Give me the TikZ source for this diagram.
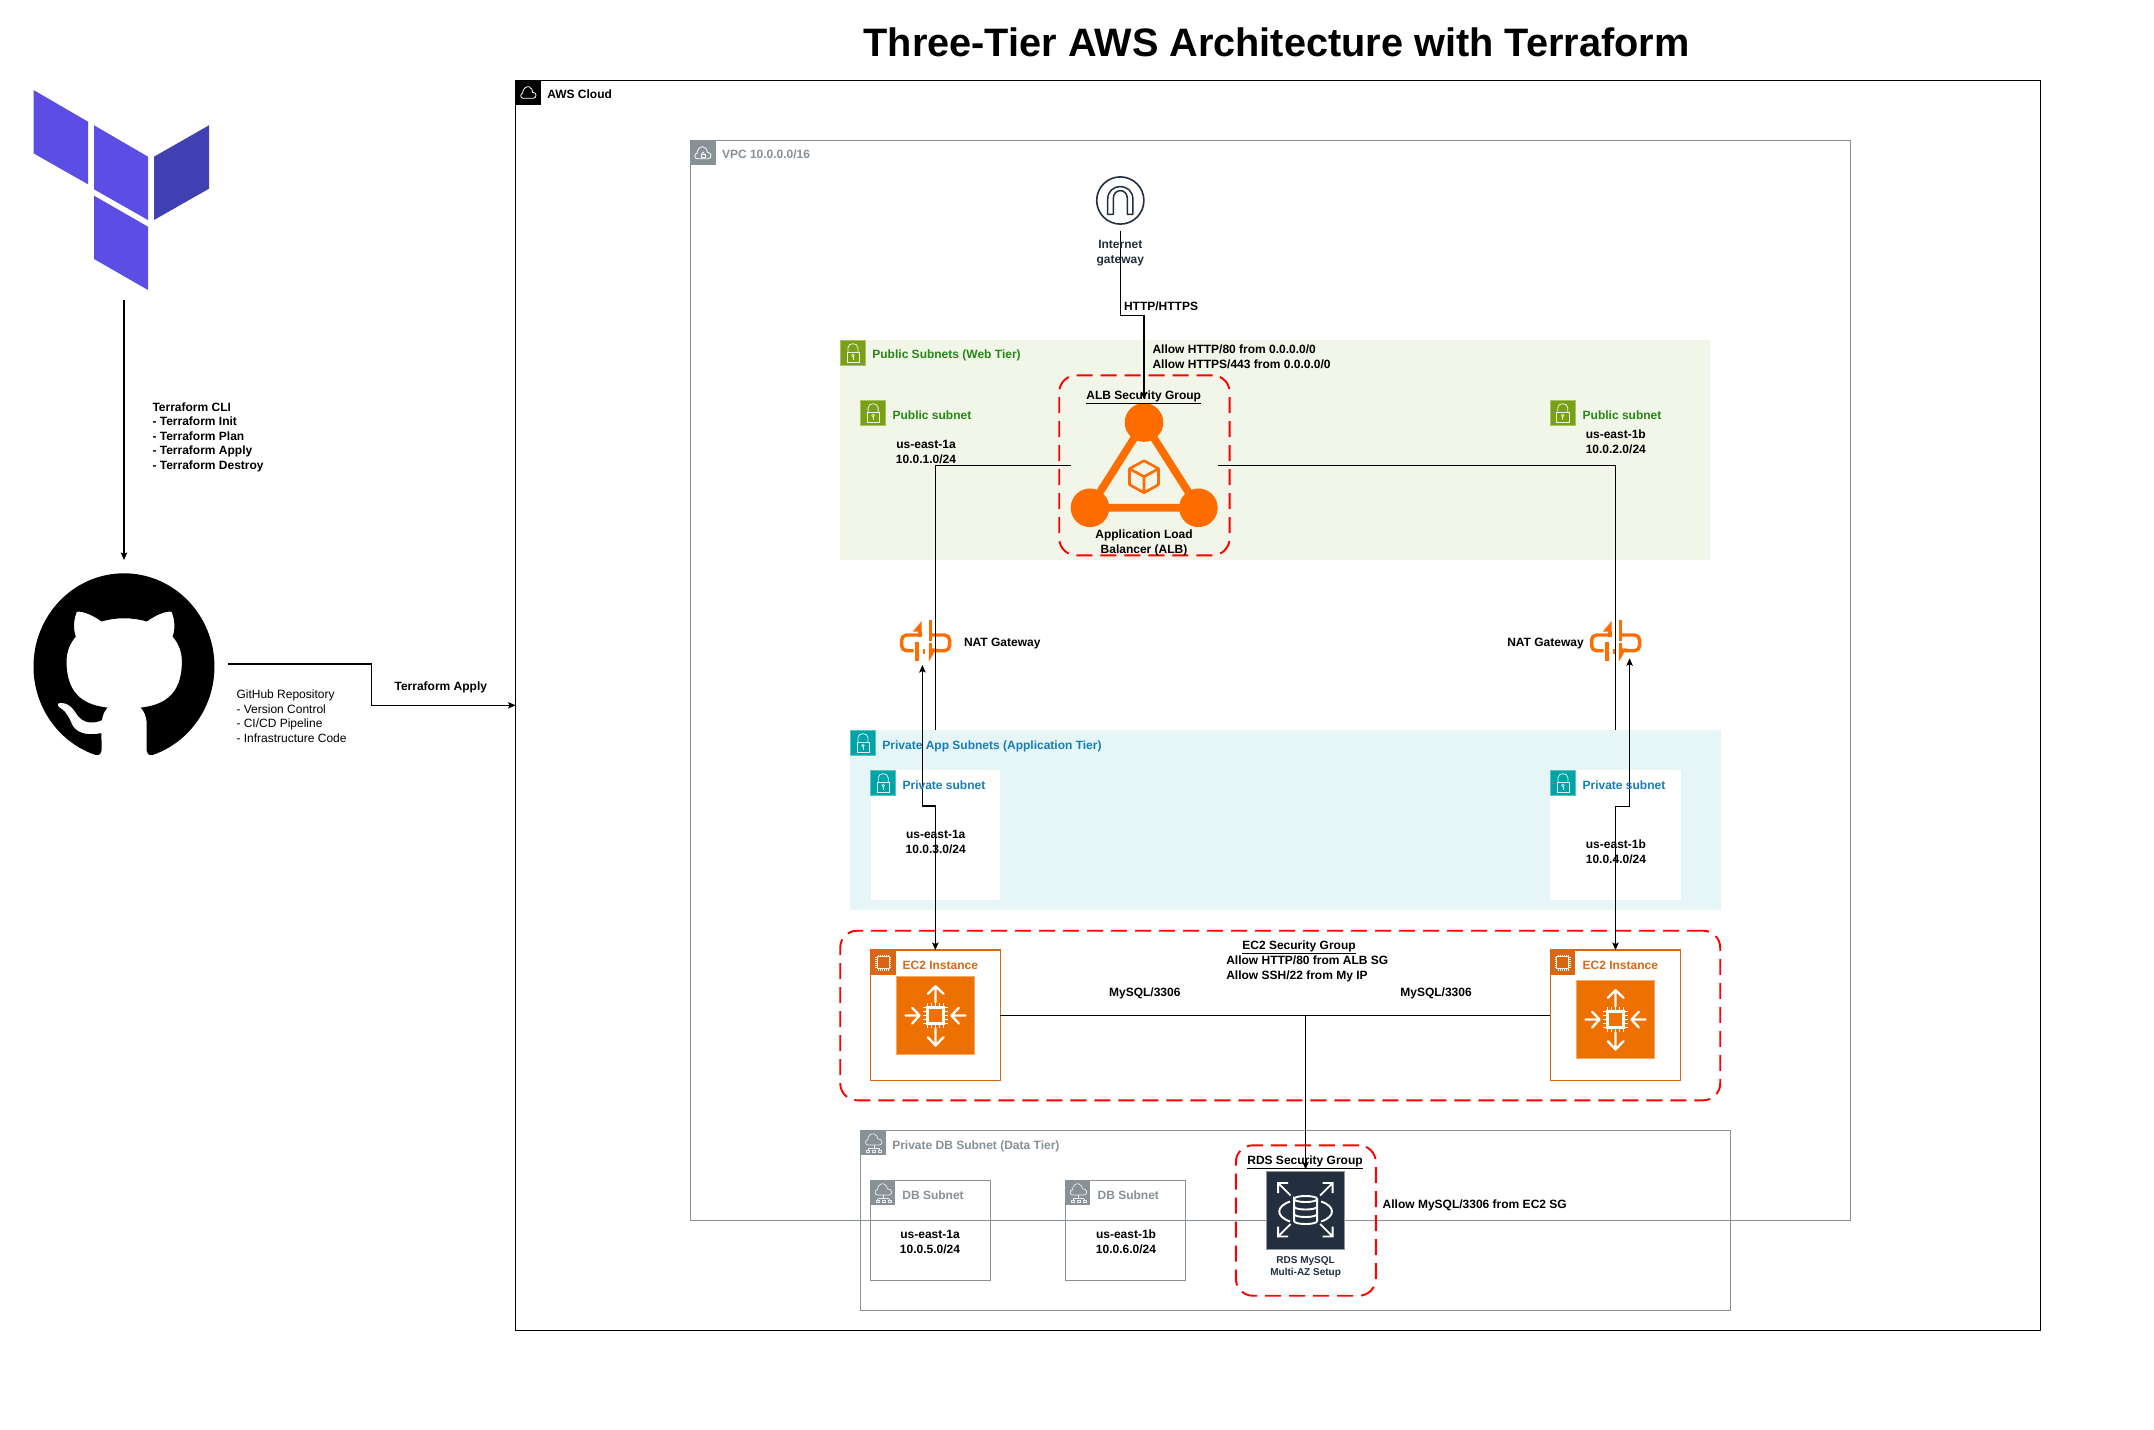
\documentclass[tikz,border=0pt]{standalone}
\usepackage{fontspec}
\setmainfont{Liberation Sans}
\usetikzlibrary{arrows.meta,svg.path,shapes.misc}
\definecolor{tfmain}{HTML}{5C4EE5}
\definecolor{tfdark}{HTML}{4040B2}
\definecolor{awsgrey}{HTML}{879196}
\definecolor{pubfill}{HTML}{F2F6E8}
\definecolor{pubtext}{HTML}{248814}
\definecolor{pubicon}{HTML}{7AA116}
\definecolor{privfill}{HTML}{E6F6F7}
\definecolor{privtext}{HTML}{147EBA}
\definecolor{privicon}{HTML}{00A4A6}
\definecolor{ectwo}{HTML}{D86613}
\definecolor{ecfill}{HTML}{ED7100}
\definecolor{navy}{HTML}{232F3E}
\definecolor{albor}{HTML}{FF6D00}
\tikzset{
  box/.style={rectangle,anchor=north west,inner sep=0,outer sep=0},
  sgbox/.style={box,draw=red,line width=1.9,dash pattern=on 16 off 8,rounded corners=17},
  lbl/.style={inner sep=0,outer sep=0,text height=8.6,text depth=0,font=\fontsize{12}{14.5}\selectfont\bfseries},
  lleft/.style={lbl,anchor=west,align=left},
  lctr/.style={lbl,anchor=center,align=center},
  wire/.style={draw=black,line width=1.05},
  tip/.style={-{Stealth[length=7.5,width=6.5,inset=1.5]}},
  tips/.style={{Stealth[length=7.5,width=6.5,inset=1.5]}-{Stealth[length=7.5,width=6.5,inset=1.5]}},
  pics/lockicon/.style={code={
    \fill[#1] (0,0) rectangle (25,25);
    \draw[#1!65!white,line width=.7] (0,0) rectangle (25,25);
    \draw[white!85!#1,line width=.8] (7.7,12.3) -- (7.7,7.5) .. controls (7.7,2) and (17.7,2) .. (17.7,7.5) -- (17.7,12.3);
    \draw[white!85!#1,line width=.8] (6.7,12.3) rectangle (19,21.7);
    \draw[white!85!#1,line width=.7] (12.7,15.3) circle [radius=1.3];
    \draw[white!85!#1,line width=.7] (12.7,16.6) -- (12.7,19.3);
  }},
  pics/cloudshape/.style={code={
    \draw[white,line width=.8] (7.5,18) .. controls (4.5,18) and (4.5,13) .. (7,13)
      .. controls (7,8.5) and (11,5.5) .. (13.5,6.5) .. controls (16.5,7.5) and (17,10.5) .. (17,12)
      .. controls (21.5,12) and (21.5,18) .. (17.5,18) -- cycle;
  }},
  pics/cloudlock/.style={code={
    \fill[awsgrey] (0,0) rectangle (25,25);
    \draw[white,line width=.8] (7,18.5) .. controls (3.5,18.5) and (3.5,13) .. (6.5,13)
      .. controls (7,8.5) and (10,6) .. (12.5,6.5) .. controls (15.5,7) and (17,10) .. (17,12)
      .. controls (21.5,12) and (21.5,18.5) .. (17.5,18.5) -- cycle;
    \draw[white,line width=.6] (10.5,13.5) rectangle (14.5,17);
    \draw[white,line width=.6] (11.2,13.5) .. controls (11.2,11) and (13.8,11) .. (13.8,13.5);
  }},
  pics/cloudnet/.style={code={
    \fill[awsgrey] (0,0) rectangle (25,25);
    \draw[white!85!awsgrey,line width=.7] (7.5,14.7) .. controls (4,14.7) and (4,9.5) .. (7,9.5)
      .. controls (7.5,5) and (10.5,3) .. (13,3.5) .. controls (16,4) and (17,7) .. (17,8.5)
      .. controls (22.5,8.5) and (22.5,14.7) .. (18.5,14.7) -- cycle;
    \draw[white!85!awsgrey,line width=.7] (13.3,14.7) -- (13.3,18.5) (7.5,18.5) -- (19,18.5) (7.5,18.5) -- (7.5,19.7) (19,18.5) -- (19,19.7);
    \draw[white!85!awsgrey,line width=.6] (6,19.7) rectangle (9,21.7) (12,19.7) rectangle (15,21.7) (17.5,19.7) rectangle (20.5,21.7);
  }},
  pics/ecsmall/.style={code={
    \fill[ectwo] (0,0) rectangle (25,25);
    \draw[white!90!ectwo,line width=.8] (6.5,6.5) rectangle (18.5,18.5);
    \foreach \q in {7.5,9.5,11.5,13.5,15.5,17.5}{
      \draw[white!90!ectwo,line width=.4] (\q,4.5) -- (\q,6.5) (\q,18.5) -- (\q,20.5) (4.5,\q) -- (6.5,\q) (18.5,\q) -- (20.5,\q);
    }
  }},
  pics/ecbig/.style={code={
    \fill[ecfill] (-39,-39) rectangle (39,39);
    \draw[ecfill!60!white,line width=.8] (-39,-39) rectangle (39,39);
    \begin{scope}[draw=white,line width=2.3,line cap=round,line join=round]
      \draw (0,-13) -- (0,-29.3) (-7.7,-21.7) -- (0,-29.3) -- (8,-21.7);
      \draw (0,13) -- (0,30) (-7.7,21.7) -- (0,30) -- (8,21.7);
      \draw (-30,0) -- (-16,0) (-23.3,-7.7) -- (-16,0) -- (-23.3,8);
      \draw (30,0) -- (16,0) (23.3,-7.7) -- (16,0) -- (23.3,8);
    \end{scope}
    \draw[white,line width=3] (-8.3,-8.3) rectangle (8.3,8.3);
    \foreach \q in {-8,-4,0,4,8}{
      \draw[white,line width=1.7] (\q,-12.5) -- (\q,-9) (\q,9) -- (\q,12.5) (-12.5,\q) -- (-9,\q) (9,\q) -- (12.5,\q);
    }
  }},
  pics/natgw/.style={code={
    \begin{scope}[draw=albor,line width=3.4,line join=round]
      \draw[rounded corners=5] (-5.5,-6) -- (-24,-6) -- (-24,9.7) -- (-12,9.7);
      \draw[rounded corners=5] (5,-6) -- (24,-6) -- (24,9.7) -- (9,9.7);
      \draw (5,-21) -- (5,-0.5);
      \draw (-8.5,0.7) -- (-8.5,19.7);
      \draw[line width=2.2] (-1.5,8.3) -- (-1.5,13);
      \draw (-5.5,-10) -- (-5.5,-4);
      \draw (5,2.3) -- (5,8);
    \end{scope}
    \fill[albor] (-4,-20) -- (-12.7,-9.5) -- (-4,-9.5) -- cycle;
    \fill[albor] (3.2,20.7) -- (3.2,7.3) -- (11,7.3) -- cycle;
  }},
  pics/rdsicon/.style={code={
    \fill[navy] (-39,-39) rectangle (39,39);
    \draw[navy!50!white,line width=.8] (-39,-39) rectangle (39,39);
    \begin{scope}[draw=white,line width=1.9,line join=miter]
      \draw (-15,-15) -- (-27.5,-27.5) (-17.5,-27.5) -- (-27.5,-27.5) -- (-27.5,-17.5);
      \draw (14.5,-15) -- (27,-27.5) (17,-27.5) -- (27,-27.5) -- (27,-17.5);
      \draw (-15,13.5) -- (-27.5,26) (-27.5,16) -- (-27.5,26) -- (-17.5,26);
      \draw (14.5,13.5) -- (27,26) (27,16) -- (27,26) -- (17,26);
      \draw (-11.5,-11.5) .. controls (-11.5,-15.5) and (11.5,-15.5) .. (11.5,-11.5) .. controls (11.5,-7.5) and (-11.5,-7.5) .. (-11.5,-11.5) -- (-11.5,10.5) .. controls (-11.5,14.5) and (11.5,14.5) .. (11.5,10.5) -- (11.5,-11.5);
      \draw (-11.5,-4) .. controls (-11.5,0) and (11.5,0) .. (11.5,-4);
      \draw (-11.5,3.5) .. controls (-11.5,7.5) and (11.5,7.5) .. (11.5,3.5);
      \draw (-15.5,-9) .. controls (-30,-4) and (-30,6) .. (-15.5,11);
      \draw (15.5,-9) .. controls (30,-4) and (30,6) .. (15.5,11);
    \end{scope}
  }},
}
\begin{document}
\begin{tikzpicture}[x=1pt,y=-1pt]
\useasboundingbox (0,0) rectangle (2154,1429);
\fill[white] (0,0) rectangle (2154,1429);

% title
\node[inner sep=0,text height=28.4,text depth=0,font=\fontsize{39.7}{48}\selectfont\bfseries] (title) at (1276.5,42) {Three-Tier AWS Architecture with Terraform};

% Terraform logo
\fill[tfmain] (33.5,90) -- (88,121.7) -- (88,184.3) -- (33.5,153.3) -- cycle;
\fill[tfmain] (94,125.3) -- (148,156.7) -- (148,220) -- (94,189.3) -- cycle;
\fill[tfdark] (154,156.7) -- (209,125.3) -- (209,188.7) -- (154,220) -- cycle;
\fill[tfmain] (94,195.7) -- (148,226.7) -- (148,290) -- (94,259) -- cycle;
\coordinate (tfout) at (124,300);
\coordinate (ghin) at (124,560);

% GitHub mark
\begin{scope}[shift={(33.5,573.3)},xscale=11.31,yscale=-11.65]
\fill[black] svg "M 8 0 C 3.58 0 0 3.58 0 8 c 0 3.54 2.29 6.53 5.47 7.59 c 0.4 0.07 0.55 -0.17 0.55 -0.38 c 0 -0.19 -0.01 -0.82 -0.01 -1.49 c -2.01 0.37 -2.53 -0.49 -2.69 -0.94 c -0.09 -0.23 -0.48 -0.94 -0.82 -1.13 c -0.28 -0.15 -0.68 -0.52 -0.01 -0.53 c 0.63 -0.01 1.08 0.58 1.23 0.82 c 0.72 1.21 1.87 0.87 2.33 0.66 c 0.07 -0.52 0.28 -0.87 0.51 -1.07 c -1.78 -0.2 -3.64 -0.89 -3.64 -3.95 c 0 -0.87 0.31 -1.59 0.82 -2.15 c -0.08 -0.2 -0.36 -1.02 0.08 -2.12 c 0 0 0.67 -0.21 2.2 0.82 c 0.64 -0.18 1.32 -0.27 2 -0.27 c 0.68 0 1.36 0.09 2 0.27 c 1.53 -1.04 2.2 -0.82 2.2 -0.82 c 0.44 1.1 0.16 1.92 0.08 2.12 c 0.51 0.56 0.82 1.27 0.82 2.15 c 0 3.07 -1.87 3.75 -3.65 3.95 c 0.29 0.25 0.54 0.73 0.54 1.48 c 0 1.07 -0.01 1.93 -0.01 2.2 c 0 0.21 0.15 0.46 0.55 0.38 C 13.71 14.53 16 11.54 16 8 c 0 -4.42 -3.58 -8 -8 -8 z";
\end{scope}
\coordinate (ghout) at (228.2,664);
\coordinate (ghbend) at (371.9,705.3);

% containers
\node[box,draw=black,line width=1.3,minimum width=1524.9,minimum height=1250.2] (aws) at (515.6,80.3) {};
\node[box,draw=awsgrey,line width=1.1,minimum width=1159.9,minimum height=1080] (vpc) at (690.5,140.3) {};
\node[box,fill=pubfill,minimum width=870.2,minimum height=219.7] (pubgroup) at (840.2,340.3) {};
\node[box,fill=privfill,minimum width=870.2,minimum height=179.7] (privgroup) at (850.3,730.3) {};
\node[box,fill=white,minimum width=129.9,minimum height=130] (privA) at (870.5,770.3) {};
\node[box,fill=white,minimum width=130.5,minimum height=130] (privB) at (1550.2,770.3) {};
\node[box,draw=ectwo,line width=1.1,fill=white,minimum width=129.9,minimum height=130.3] (ecA) at (870.5,950) {};
\node[box,draw=ectwo,line width=1.1,fill=white,minimum width=130.5,minimum height=130.3] (ecB) at (1550.2,950) {};
\node[box,draw=awsgrey,line width=1.1,minimum width=869.8,minimum height=180] (dbgroup) at (860.7,1130.3) {};
\node[box,draw=awsgrey,line width=1.1,minimum width=120.3,minimum height=100] (dbA) at (870.3,1180.3) {};
\node[box,draw=awsgrey,line width=1.1,minimum width=120.3,minimum height=100] (dbB) at (1065.4,1180.3) {};

% security groups
\node[sgbox,minimum width=170.4,minimum height=180] (albsg) at (1059.2,375.3) {};
\node[sgbox,minimum width=880,minimum height=169.6] (ecsg) at (840.2,930.7) {};
\node[sgbox,minimum width=140,minimum height=150.4] (rdssg) at (1235.8,1145.3) {};

% group icons
\fill[black] (515.6,80.3) rectangle (540.6,105.3);
\pic at (515.6,80.3) {cloudshape};
\pic at (690.5,140.3) {cloudlock};
\pic at (840.2,340.3) {lockicon=pubicon};
\pic at (860.4,400.3) {lockicon=pubicon};
\pic at (1550,400.3) {lockicon=pubicon};
\pic at (850.3,730.3) {lockicon=privicon};
\pic at (870.5,770.3) {lockicon=privicon};
\pic at (1550.2,770.3) {lockicon=privicon};
\pic at (870.5,950) {ecsmall};
\pic at (1550.2,950) {ecsmall};
\pic at (860.7,1130.3) {cloudnet};
\pic at (870.3,1180.3) {cloudnet};
\pic at (1065.4,1180.3) {cloudnet};

% internet gateway
\node[circle,draw=navy,line width=1.6,fill=white,minimum size=47.2,inner sep=0] (igw) at (1120.3,200.5) {};
\draw[navy,line width=1.5,line join=round,shift={(1120.3,200.5)}] (-12.6,13.8) -- (-12.6,-1.2) .. controls (-12.6,-18.2) and (12.6,-18.2) .. (12.6,-1.2) -- (12.6,13.8) -- (7,13.8) -- (7,-2) .. controls (7,-12.5) and (-7,-12.5) .. (-7,-2) -- (-7,13.8) -- cycle;
\coordinate (igwout) at (1120.3,230.7);

% ALB
\draw[albor,line width=7.7] (1144,422.5) -- (1090,507.8) -- (1198.4,507.8) -- cycle;
\node[circle,fill=albor,minimum size=38.6,inner sep=0] (albtop) at (1144,422.5) {};
\node[circle,fill=albor,minimum size=38.6,inner sep=0] (albleft) at (1090,507.8) {};
\node[circle,fill=albor,minimum size=38.6,inner sep=0] (albright) at (1198.4,507.8) {};
\draw[albor,line width=2.6,line join=round,shift={(1144,476.7)}] (0,-16) -- (14.5,-8) -- (14.5,8) -- (0,16) -- (-14.5,8) -- (-14.5,-8) -- cycle (-14.5,-8) -- (0,0) -- (14.5,-8) (0,0) -- (0,16);
\coordinate (albL) at (1070.7,465.3);
\coordinate (albR) at (1218,465.3);
\coordinate (albtip) at (1144,399.3);

% NAT gateways
\pic at (925.6,641) {natgw};
\pic at (1615.6,641) {natgw};
\coordinate (natA) at (922.4,665);
\coordinate (natB) at (1629.6,658.3);

% EC2 and RDS pictures
\pic at (935.5,1015.5) {ecbig};
\pic at (1615.5,1019.5) {ecbig};
\pic at (1305.6,1210.5) {rdsicon};
\coordinate (rdstip) at (1305.6,1169.3);
\coordinate (joint) at (1305.6,1015.3);

% connectors
\draw[wire,tip] (tfout) -- (ghin);
\draw[wire,tip] (ghout) -| (ghbend) -- (515.6,705.3);
\draw[wire,tip] (igwout) |- (1144,315.3) -- (albtip);
\draw[wire] (albL) -| (935.3,730.3);
\draw[wire] (albR) -| (1615.3,730.3);
\draw[wire,tips] (935.3,950) -- (935.3,806) -- (922.4,806) -- (natA);
\draw[wire,tips] (1615.5,950) -- (1615.5,806.3) -- (1629.6,806.3) -- (natB);
\draw[wire] (1000.4,1015.3) -- (joint) -- (1550.2,1015.3);
\draw[wire,tip] (joint) -- (rdstip);

% labels
\node[lleft] (awsl) at (547.3,94.5) {AWS Cloud};
\node[lleft,text=awsgrey] (vpcl) at (722,154.3) {VPC 10.0.0.0/16};
\node[lctr,text=navy] (igwl) at (1120.3,259) {Internet\\gateway};
\node[lleft] (httpl) at (1124,305.7) {HTTP/HTTPS};
\node[lleft,text=pubtext] (publ) at (872.4,354.3) {Public Subnets (Web Tier)};
\node[lleft] (allowl) at (1152.5,363.7) {Allow HTTP/80 from 0.0.0.0/0\\Allow HTTPS/443 from 0.0.0.0/0};
\node[lctr] (albsgl) at (1143.7,395) {\underline{ALB Security Group}};
\node[lleft,text=pubtext] (pubAl) at (892.6,414.7) {Public subnet};
\node[lleft,text=pubtext] (pubBl) at (1582.7,414.7) {Public subnet};
\node[lctr] (pubAz) at (926,458.7) {us-east-1a\\10.0.1.0/24};
\node[lctr] (pubBz) at (1615.8,448.7) {us-east-1b\\10.0.2.0/24};
\node[lctr] (albl) at (1144,548.7) {Application Load\\Balancer (ALB)};
\node[lleft] (natAl) at (964,641.7) {NAT Gateway};
\node[lbl,anchor=east] (natBl) at (1583.7,641.7) {NAT Gateway};
\node[lleft,text=privtext] (privl) at (882.4,744.7) {Private App Subnets (Application Tier)};
\node[lleft,text=privtext] (privAl) at (902.6,784.7) {Private subnet};
\node[lleft,text=privtext] (privBl) at (1582.6,784.7) {Private subnet};
\node[lctr] (privAz) at (935.7,848.7) {us-east-1a\\10.0.3.0/24};
\node[lctr] (privBz) at (1615.9,858.7) {us-east-1b\\10.0.4.0/24};
\node[lctr] (ecsgl) at (1299,944.7) {\underline{EC2 Security Group}};
\node[lleft] (ecallow) at (1226.3,974.7) {Allow HTTP/80 from ALB SG\\Allow SSH/22 from My IP};
\node[lleft,text=ectwo] (ecAl) at (902.6,964.7) {EC2 Instance};
\node[lleft,text=ectwo] (ecBl) at (1582.6,964.7) {EC2 Instance};
\node[lctr] (mysqlA) at (1144.8,991.7) {MySQL/3306};
\node[lctr] (mysqlB) at (1436,991.7) {MySQL/3306};
\node[lleft,text=awsgrey] (dbl) at (892.3,1144.7) {Private DB Subnet (Data Tier)};
\node[lleft,text=awsgrey] (dbAl) at (902.4,1194.7) {DB Subnet};
\node[lleft,text=awsgrey] (dbBl) at (1097.6,1194.7) {DB Subnet};
\node[lctr] (dbAz) at (930,1248.7) {us-east-1a\\10.0.5.0/24};
\node[lctr] (dbBz) at (1126,1248.7) {us-east-1b\\10.0.6.0/24};
\node[lctr] (rdssgl) at (1305,1159.7) {\underline{RDS Security Group}};
\node[lleft] (rdsallow) at (1382.7,1204.3) {Allow MySQL/3306 from EC2 SG};
\node[lctr,text=navy,text height=7.2,font=\fontsize{10}{12}\selectfont\bfseries] (rdsl) at (1305.6,1271.7) {RDS MySQL\\Multi-AZ Setup};
\node[lleft] (tfcli) at (152.5,464.7) {Terraform CLI\\- Terraform Init\\- Terraform Plan\\- Terraform Apply\\- Terraform Destroy};
\node[lleft,font=\fontsize{12}{14.5}\selectfont] (ghl) at (236.5,737.7) {GitHub Repository\\- Version Control\\- CI/CD Pipeline\\- Infrastructure Code};
\node[lctr] (applyl) at (440.8,685.7) {Terraform Apply};
\end{tikzpicture}
\end{document}
